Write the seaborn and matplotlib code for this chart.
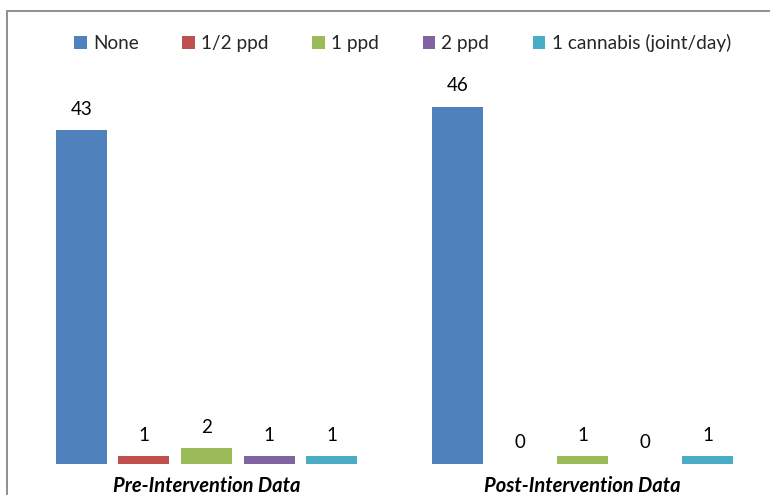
import matplotlib
matplotlib.use("Agg")
import matplotlib.pyplot as plt
from matplotlib.patches import Rectangle
import pandas as pd
import seaborn as sns

# Smoking status counts before and after the intervention
groups = ["Pre-Intervention Data", "Post-Intervention Data"]
habits = ["None", "1/2 ppd", "1 ppd", "2 ppd", "1 cannabis (joint/day)"]
pre_counts = [43, 1, 2, 1, 1]
post_counts = [46, 0, 1, 0, 1]
colors = ["#4F81BD", "#C0504D", "#9BBB59", "#8064A2", "#4BACC6"]

df = pd.DataFrame({
    "group": [groups[0]] * len(habits) + [groups[1]] * len(habits),
    "habit": habits * 2,
    "count": pre_counts + post_counts,
})

sns.set_theme(style="white")
plt.rcParams["font.family"] = ["Lato", "DejaVu Sans"]

W, H = 770, 495
fig = plt.figure(figsize=(W / 100, H / 100), dpi=100)

# plot area in pixel terms
left_px, right_px = 20, 750
bottom_px, top_px = 464, 75.7
ax = fig.add_axes([left_px / W, 1 - bottom_px / H,
                   (right_px - left_px) / W, (bottom_px - top_px) / H])

sns.barplot(data=df, x="group", y="count", hue="habit", order=groups,
            hue_order=habits, palette=colors, width=0.833, gap=0.185,
            saturation=1, edgecolor="none", linewidth=0, ax=ax)

for cont in ax.containers:
    ax.bar_label(cont, fmt="%d", padding=9, fontsize=13.5, color="#000000")

ax.set_ylim(0, 50)
c0, c1 = 206.5, 582.5
scale = c1 - c0
ax.set_xlim((left_px - c0) / scale, (right_px - c0) / scale)

for s in ax.spines.values():
    s.set_visible(False)
ax.set_yticks([])
ax.set_xlabel("")
ax.set_ylabel("")
ax.tick_params(axis="x", length=0, pad=9)
for lab in ax.get_xticklabels():
    lab.set_fontweight("bold")
    lab.set_fontstyle("italic")
    lab.set_fontsize(14.5)
    lab.set_color("#000000")

handles, labels = ax.get_legend_handles_labels()
ax.get_legend().remove()
fig.legend(handles, labels, loc="center", ncol=5,
           bbox_to_anchor=(402.5 / W, 1 - 43 / H), frameon=False,
           fontsize=13.7, handlelength=0.65, handleheight=0.65,
           handletextpad=0.33, columnspacing=2.3, borderpad=0)

# chart frame
fig.patches.append(Rectangle((7 / W, -0.2), 1.5, 0.2 + 1 - 11 / H,
                             transform=fig.transFigure, fill=False,
                             edgecolor="#868686", linewidth=1.3))

fig.savefig("out.png", dpi=100)
